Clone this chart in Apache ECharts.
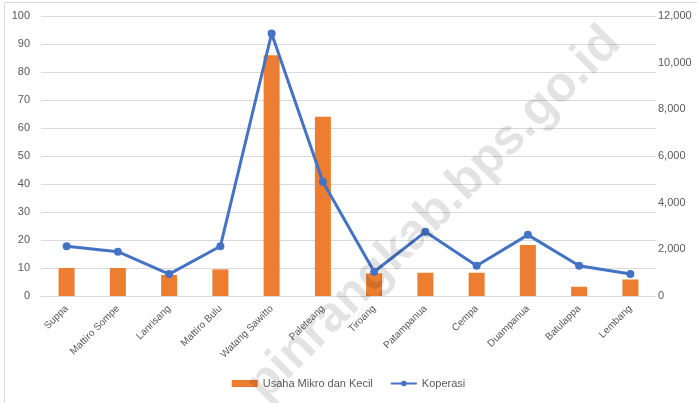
<!DOCTYPE html>
<html>
<head>
<meta charset="utf-8">
<script src="https://cdn.jsdelivr.net/npm/echarts@6/dist/echarts.min.js"></script>
<style>
  html, body { margin: 0; padding: 0; background: #fff; }
  #chart { width: 697px; height: 403px; }
</style>
</head>
<body>
<div id="chart"></div>
<script>
// Kecamatan (districts)
var categories = ['Suppa', 'Mattiro Sompe', 'Lanrisang', 'Mattiro Bulu', 'Watang Sawitto',
  'Paleteang', 'Tiroang', 'Patampanua', 'Cempa', 'Duampanua', 'Batulappa', 'Lembang'];

// Usaha Mikro dan Kecil (left axis)
var umkValues = [10, 10, 7.5, 9.5, 86, 64, 8.1, 8.3, 8.3, 18.2, 3.3, 5.9];

// Koperasi (right axis)
var koperasiValues = [2130, 1900, 940, 2130, 11250, 4900, 1040, 2750, 1300, 2620, 1300, 940];

var leftTicks = { min: 0, max: 100, interval: 10 };
var rightTicks = { min: 0, max: 12000, interval: 2000 };

var labelColor = '#595959';
var gridColor = '#d9d9d9';
var font = 'Liberation Sans';

var chart = echarts.init(document.getElementById('chart'), null, { renderer: 'canvas' });

chart.setOption({
  animation: false,
  backgroundColor: '#ffffff',
  textStyle: { fontFamily: font },
  grid: { left: 41, right: 41, top: 16, bottom: 107, containLabel: false },
  legend: {
    bottom: 9,
    left: 'center',
    itemGap: 17,
    itemWidth: 26,
    itemHeight: 7,
    textStyle: { color: labelColor, fontSize: 11, fontFamily: font },
    data: [
      { name: 'Usaha Mikro dan Kecil', icon: 'rect' },
      { name: 'Koperasi' }
    ]
  },
  xAxis: {
    type: 'category',
    data: categories,
    axisLine: { show: true, lineStyle: { color: gridColor, width: 1 } },
    axisTick: { show: false },
    axisLabel: {
      rotate: 45,
      interval: 0,
      color: labelColor,
      fontSize: 10,
      margin: 11
    }
  },
  yAxis: [
    {
      type: 'value',
      min: leftTicks.min,
      max: leftTicks.max,
      interval: leftTicks.interval,
      axisLine: { show: false },
      axisTick: { show: false },
      splitLine: { lineStyle: { color: gridColor, width: 1 } },
      axisLabel: { color: labelColor, fontSize: 11, margin: 11 }
    },
    {
      type: 'value',
      min: rightTicks.min,
      max: rightTicks.max,
      interval: rightTicks.interval,
      position: 'right',
      axisLine: { show: false },
      axisTick: { show: false },
      splitLine: { show: false },
      axisLabel: {
        color: labelColor,
        fontSize: 11,
        margin: 2,
        formatter: function (v) { return v.toLocaleString('en-US'); }
      }
    }
  ],
  series: [
    {
      name: 'Usaha Mikro dan Kecil',
      type: 'bar',
      yAxisIndex: 0,
      data: umkValues,
      barWidth: 16,
      itemStyle: { color: '#ED7D31' }
    },
    {
      name: 'Koperasi',
      type: 'line',
      yAxisIndex: 1,
      data: koperasiValues,
      symbol: 'circle',
      symbolSize: 8,
      lineStyle: { color: '#4472C4', width: 3 },
      itemStyle: { color: '#4472C4' },
      z: 3
    }
  ],
  graphic: [
    {
      type: 'rect',
      shape: { x: 4.5, y: 2.5, width: 800, height: 600 },
      style: { fill: 'none', stroke: gridColor, lineWidth: 1 },
      silent: true,
      z: 0
    },
    {
      type: 'text',
      x: 434,
      y: 214,
      rotation: Math.PI / 4,
      style: {
        text: 'pinrangkab.bps.go.id',
        font: 'bold 50px "Liberation Sans"',
        fill: 'rgba(0,0,0,0.11)',
        textAlign: 'center',
        textVerticalAlign: 'middle'
      },
      silent: true,
      z: 100
    }
  ]
});
</script>
</body>
</html>
